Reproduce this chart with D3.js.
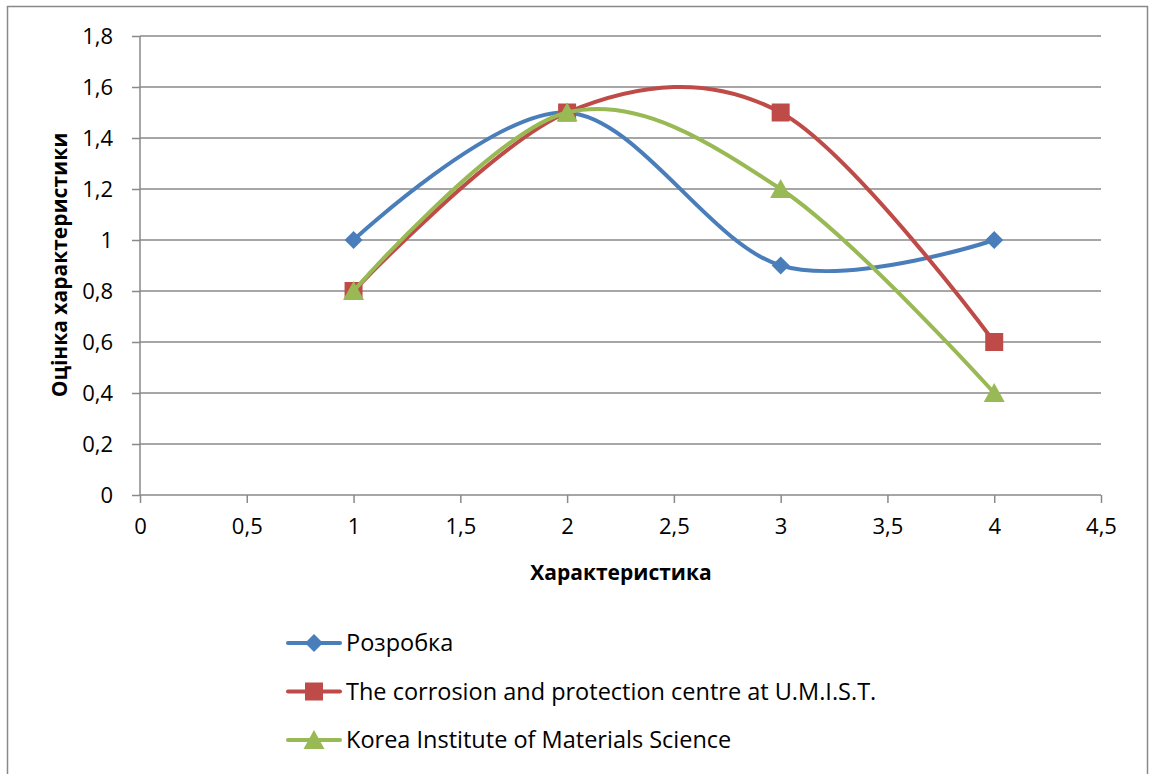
<!DOCTYPE html>
<html lang="uk">
<meta charset="utf-8">
<style>
  body { margin: 0; background: #fff; }
  text { font-family: 'Open Sans', 'Noto Sans', sans-serif; fill: #000; }
</style>
<script src="https://cdn.jsdelivr.net/npm/d3@7"></script>
<body>
<div id="chart"></div>
<script>
var W = 1152, H = 774;

// data
var xVals = [1, 2, 3, 4];
var rozrobka = [1, 1.5, 0.9, 1];
var umist = [0.8, 1.5, 1.5, 0.6];
var korea = [0.8, 1.5, 1.2, 0.4];
var seriesNames = ["Розробка", "The corrosion and protection centre at U.M.I.S.T.", "Korea Institute of Materials Science"];
var xTicks = [0, 0.5, 1, 1.5, 2, 2.5, 3, 3.5, 4, 4.5];
var yTicks = [0, 0.2, 0.4, 0.6, 0.8, 1, 1.2, 1.4, 1.6, 1.8];

var colors = ["#4A7EBB", "#BE4B48", "#98B954"];

// marker shapes (diamond, square, triangle)
function marker(i) {
  if (i === 0) return "M0,-9L9,0L0,9L-9,0Z";
  if (i === 1) return "M-9,-9H9V9H-9Z";
  return "M0,-10L10.5,9H-10.5Z";
}

var svg = d3.select("#chart").append("svg")
    .attr("width", W).attr("height", H);

// outer frame
svg.append("rect")
    .attr("x", 7.5).attr("y", 6.5)
    .attr("width", 1140).attr("height", 780)
    .attr("fill", "none").attr("stroke", "#898989").attr("stroke-width", 1.5);

var m = {left: 140, right: 1101, top: 36, bottom: 495};

var x = d3.scaleLinear().domain([0, 4.5]).range([m.left, m.right]);
var y = d3.scaleLinear().domain([0, 1.8]).range([m.bottom, m.top]);

var fmt = function(d) { return String(d).replace(".", ","); };

// gridlines
svg.append("g").selectAll("line")
  .data(yTicks.slice(1))
  .enter().append("line")
    .attr("x1", m.left).attr("x2", m.right)
    .attr("y1", d => y(d)).attr("y2", d => y(d))
    .attr("stroke", "#898989").attr("stroke-width", 1.5);

// y axis
var yAxis = svg.append("g")
    .attr("transform", "translate(" + m.left + ",0)")
    .call(d3.axisLeft(y).tickValues(yTicks).tickFormat(fmt).tickSize(8).tickPadding(19));
yAxis.selectAll("line, path").attr("stroke", "#898989").attr("stroke-width", 1.5);
yAxis.select(".domain").attr("d", "M0," + m.bottom + "V" + m.top);
yAxis.selectAll("text").attr("font-size", 22).attr("font-family", "'Open Sans'");

// x axis
var xAxis = svg.append("g")
    .attr("transform", "translate(0," + m.bottom + ")")
    .call(d3.axisBottom(x).tickValues(xTicks).tickFormat(fmt).tickSize(8).tickPadding(15));
xAxis.selectAll("line, path").attr("stroke", "#898989").attr("stroke-width", 1.5);
xAxis.select(".domain").attr("d", "M" + m.left + ",0H" + m.right);
xAxis.selectAll("text").attr("font-size", 22).attr("font-family", "'Open Sans'");

// titles
svg.append("text")
    .attr("x", 621).attr("y", 580)
    .attr("text-anchor", "middle")
    .attr("font-size", 21).attr("font-weight", "bold")
    .text("Характеристика");

svg.append("text")
    .attr("transform", "translate(67," + 265 + ")rotate(-90)")
    .attr("text-anchor", "middle")
    .attr("font-size", 21).attr("font-weight", "bold")
    .text("Оцінка характеристики");

// series
var allSeries = [rozrobka, umist, korea];
var line = d3.line()
    .x(d => x(d[0])).y(d => y(d[1]))
    .curve(d3.curveCardinal.tension(0));

allSeries.forEach(function(vals, i) {
  var pts = xVals.map((xv, j) => [xv, vals[j]]);
  svg.append("path")
      .attr("d", line(pts))
      .attr("fill", "none")
      .attr("stroke", colors[i])
      .attr("stroke-width", 4)
      .attr("stroke-linecap", "round");
  svg.append("g").selectAll("path")
    .data(pts).enter().append("path")
      .attr("transform", d => "translate(" + x(d[0]) + "," + y(d[1]) + ")")
      .attr("d", marker(i))
      .attr("fill", colors[i]);
});

// legend
var leg = svg.append("g").selectAll("g")
  .data(seriesNames).enter().append("g")
    .attr("transform", (d, i) => "translate(288," + (643 + i * 48.5) + ")");
leg.append("line")
    .attr("x1", 0).attr("x2", 52)
    .attr("stroke", (d, i) => colors[i]).attr("stroke-width", 4)
    .attr("stroke-linecap", "round");
leg.append("path")
    .attr("transform", "translate(26,0)")
    .attr("d", (d, i) => marker(i))
    .attr("fill", (d, i) => colors[i]);
leg.append("text")
    .attr("x", 58).attr("dy", "0.35em")
    .attr("font-size", 23.5)
    .text(d => d);
</script>
</body>
</html>
